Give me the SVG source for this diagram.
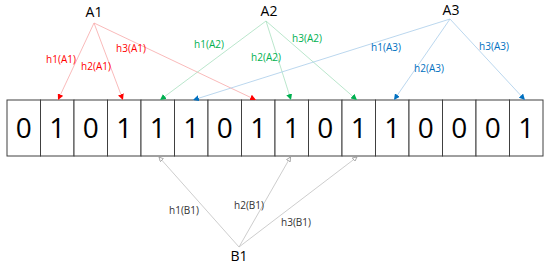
<svg xmlns="http://www.w3.org/2000/svg" width="550" height="266" viewBox="0 0 550 266">
<style>
.cell{fill:#fff;stroke:#404040;stroke-width:1}
.dig{font-family:"Open Sans","Liberation Sans",sans-serif;font-size:28px;fill:#000;text-anchor:middle}
.node{font-family:"Open Sans","Liberation Sans",sans-serif;font-size:14px;fill:#000;text-anchor:middle}
.lbl{font-family:"Open Sans","Liberation Sans",sans-serif;font-size:10px;text-anchor:middle}
.r{stroke:#f7a8a8;fill:none;stroke-width:0.8}
.g{stroke:#a8e0bf;fill:none;stroke-width:0.8}
.b{stroke:#a9cdea;fill:none;stroke-width:0.8}
.k{stroke:#c0c0c0;fill:none;stroke-width:0.8}
</style>
<defs>
<marker id="mr" markerUnits="userSpaceOnUse" markerWidth="6" markerHeight="6" viewBox="0 0 6 6" refX="6" refY="3" orient="auto"><path d="M0,0 L6,3 L0,6 Z" fill="#ff0000"/></marker>
<marker id="mg" markerUnits="userSpaceOnUse" markerWidth="6" markerHeight="6" viewBox="0 0 6 6" refX="6" refY="3" orient="auto"><path d="M0,0 L6,3 L0,6 Z" fill="#00b050"/></marker>
<marker id="mb" markerUnits="userSpaceOnUse" markerWidth="6" markerHeight="6" viewBox="0 0 6 6" refX="6" refY="3" orient="auto"><path d="M0,0 L6,3 L0,6 Z" fill="#0070c0"/></marker>
<marker id="mk" markerUnits="userSpaceOnUse" markerWidth="5" markerHeight="5" viewBox="0 0 7 7" refX="6.5" refY="3.5" orient="auto"><path d="M0.5,0.5 L6.5,3.5 L0.5,6.5 Z" fill="#fff" stroke="#909090" stroke-width="1"/></marker>
</defs>
<g id="bits">
<rect class="cell" x="7" y="100" width="33.5" height="56"/>
<rect class="cell" x="40.5" y="100" width="33.5" height="56"/>
<rect class="cell" x="74" y="100" width="33.5" height="56"/>
<rect class="cell" x="107.5" y="100" width="33.5" height="56"/>
<rect class="cell" x="141" y="100" width="33.5" height="56"/>
<rect class="cell" x="174.5" y="100" width="33.5" height="56"/>
<rect class="cell" x="208" y="100" width="33.5" height="56"/>
<rect class="cell" x="241.5" y="100" width="33.5" height="56"/>
<rect class="cell" x="275" y="100" width="33.5" height="56"/>
<rect class="cell" x="308.5" y="100" width="33.5" height="56"/>
<rect class="cell" x="342" y="100" width="33.5" height="56"/>
<rect class="cell" x="375.5" y="100" width="33.5" height="56"/>
<rect class="cell" x="409" y="100" width="33.5" height="56"/>
<rect class="cell" x="442.5" y="100" width="33.5" height="56"/>
<rect class="cell" x="476" y="100" width="33.5" height="56"/>
<rect class="cell" x="509.5" y="100" width="33.5" height="56"/>
<text class="dig" x="23.75" y="138">0</text>
<text class="dig" x="57.25" y="138">1</text>
<text class="dig" x="90.75" y="138">0</text>
<text class="dig" x="124.25" y="138">1</text>
<text class="dig" x="157.75" y="138">1</text>
<text class="dig" x="191.25" y="138">1</text>
<text class="dig" x="224.75" y="138">0</text>
<text class="dig" x="258.25" y="138">1</text>
<text class="dig" x="291.75" y="138">1</text>
<text class="dig" x="325.25" y="138">0</text>
<text class="dig" x="358.75" y="138">1</text>
<text class="dig" x="392.25" y="138">1</text>
<text class="dig" x="425.75" y="138">0</text>
<text class="dig" x="459.25" y="138">0</text>
<text class="dig" x="492.75" y="138">0</text>
<text class="dig" x="526.25" y="138">1</text>
</g>
<g id="A1"><text class="node" x="94" y="17">A1</text></g>
<g id="A2"><text class="node" x="269" y="16">A2</text></g>
<g id="A3"><text class="node" x="451" y="15">A3</text></g>
<g id="B1"><text class="node" x="239" y="261">B1</text></g>
<g id="connectors">
<line class="r" x1="94" y1="23" x2="58" y2="100" marker-end="url(#mr)"/>
<line class="r" x1="94" y1="23" x2="123" y2="100" marker-end="url(#mr)"/>
<line class="r" x1="94" y1="23" x2="256" y2="100" marker-end="url(#mr)"/>
<line class="g" x1="266" y1="21" x2="160" y2="100" marker-end="url(#mg)"/>
<line class="g" x1="266" y1="21" x2="291" y2="100" marker-end="url(#mg)"/>
<line class="g" x1="266" y1="21" x2="357" y2="100" marker-end="url(#mg)"/>
<line class="b" x1="450" y1="19" x2="193" y2="100" marker-end="url(#mb)"/>
<line class="b" x1="450" y1="19" x2="394" y2="100" marker-end="url(#mb)"/>
<line class="b" x1="450" y1="19" x2="525" y2="100" marker-end="url(#mb)"/>
<line class="k" x1="239" y1="247" x2="159" y2="157" marker-end="url(#mk)"/>
<line class="k" x1="239" y1="247" x2="290.5" y2="157" marker-end="url(#mk)"/>
<line class="k" x1="239" y1="247" x2="357" y2="157" marker-end="url(#mk)"/>
<text class="lbl" x="61" y="63" fill="#ff0000">h1(A1)</text>
<text class="lbl" x="96" y="70" fill="#ff0000">h2(A1)</text>
<text class="lbl" x="131" y="52" fill="#ff0000">h3(A1)</text>
<text class="lbl" x="209" y="48" fill="#00b050">h1(A2)</text>
<text class="lbl" x="266" y="61" fill="#00b050">h2(A2)</text>
<text class="lbl" x="307" y="42" fill="#00b050">h3(A2)</text>
<text class="lbl" x="386" y="51" fill="#0070c0">h1(A3)</text>
<text class="lbl" x="429" y="72" fill="#0070c0">h2(A3)</text>
<text class="lbl" x="494" y="50" fill="#0070c0">h3(A3)</text>
<text class="lbl" x="184" y="214" fill="#333">h1(B1)</text>
<text class="lbl" x="249" y="209" fill="#333">h2(B1)</text>
<text class="lbl" x="296" y="226" fill="#333">h3(B1)</text>
</g>
</svg>
